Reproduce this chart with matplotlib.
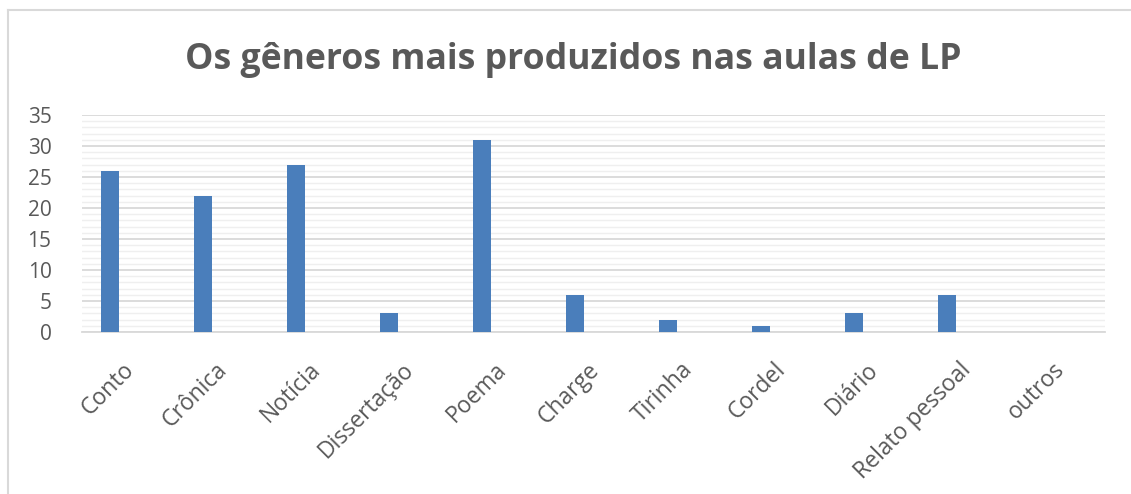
import numpy as np
import matplotlib
matplotlib.use('Agg')
import matplotlib.pyplot as plt
from matplotlib.lines import Line2D
from matplotlib.ticker import MultipleLocator
import matplotlib.transforms as mtransforms

# Dados do gráfico
generos = ['Conto', 'Crônica', 'Notícia', 'Dissertação', 'Poema', 'Charge',
           'Tirinha', 'Cordel', 'Diário', 'Relato pessoal', 'outros']
quantidades = [26, 22, 27, 3, 31, 6, 2, 1, 3, 6, 0]
titulo = 'Os gêneros mais produzidos nas aulas de LP'

plt.rcParams['font.family'] = ['Open Sans', 'DejaVu Sans']

W, H, dpi = 1131, 494, 100
fig = plt.figure(figsize=(W / dpi, H / dpi), dpi=dpi, facecolor='white')

# área do gráfico em pixels
x0, x1 = 82, 1105
y0, y1 = 332, 115
ax = fig.add_axes([x0 / W, 1 - y0 / H, (x1 - x0) / W, (y0 - y1) / H])

pos = np.arange(len(generos))
# barras deslocadas à esquerda (como série 1 de 2 no Excel)
ax.bar(pos - 0.2, quantidades, width=0.19, color='#4A7EBB', zorder=3)

ax.set_xlim(-0.5, len(generos) - 0.5)
ax.set_ylim(0, 35)
ax.yaxis.set_major_locator(MultipleLocator(5))
ax.yaxis.set_minor_locator(MultipleLocator(1))
ax.grid(axis='y', which='major', color='#D9D9D9', linewidth=1.3, zorder=0)
ax.grid(axis='y', which='minor', color='#EFEFEF', linewidth=1.0, zorder=0)
for s in ['top', 'right', 'left']:
    ax.spines[s].set_visible(False)
ax.spines['bottom'].set_color('#D9D9D9')
ax.spines['bottom'].set_linewidth(1.3)
ax.tick_params(axis='both', which='both', length=0)
ax.tick_params(axis='y', labelsize=15, labelcolor='#595959', pad=22)

ax.set_xticks(pos)
ax.set_xticklabels(generos, rotation=45, ha='right', va='top',
                   rotation_mode='anchor', fontsize=16.5, color='#595959')
offset = mtransforms.ScaledTranslation(-6 / dpi, -21 / dpi, fig.dpi_scale_trans)
for lbl in ax.get_xticklabels():
    lbl.set_transform(lbl.get_transform() + offset)

fig.text(573 / W, 1 - 60 / H, titulo, ha='center', va='center',
         fontsize=25.7, fontweight='bold', color='#595959')

# moldura do gráfico
fig.add_artist(Line2D([8 / W, 1], [1 - 10 / H, 1 - 10 / H],
                      transform=fig.transFigure, color='#D9D9D9', linewidth=1.5))
fig.add_artist(Line2D([8 / W, 8 / W], [0, 1 - 10 / H],
                      transform=fig.transFigure, color='#D9D9D9', linewidth=1.5))

plt.savefig('out.png', dpi=dpi)
plt.close()
